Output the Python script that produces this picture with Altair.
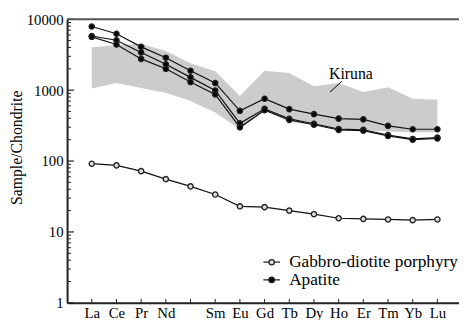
import altair as alt
import pandas as pd

# ---- data ----
elements = ["La", "Ce", "Pr", "Nd", "Pm", "Sm", "Eu", "Gd", "Tb", "Dy", "Ho", "Er", "Tm", "Yb", "Lu"]
tick_labels = ["La", "Ce", "Pr", "Nd", "", "Sm", "Eu", "Gd", "Tb", "Dy", "Ho", "Er", "Tm", "Yb", "Lu"]
positions = list(range(1, 16))

apatite_a = [7900, 6250, 4080, 2870, 1880, 1262, 511, 757, 540, 459, 396, 387, 313, 281, 281]
apatite_b = [5800, 5060, 3400, 2320, 1515, 990, 340, 545, 395, 336, 282, 276, 233, 205, 214]
apatite_c = [5650, 4400, 2760, 2000, 1300, 872, 299, 520, 380, 325, 274, 268, 226, 200, 208]
gabbro = [91.7, 87, 72, 55.7, 44, 33.7, 23, 22.4, 20, 17.8, 15.6, 15.3, 15.0, 14.7, 15.0]

kiruna_hi = [3990, 4350, 4500, 3560, 2400, 1840, 826, 1880, 1740, 1137, 1260, 938, 1100, 757, 733]
kiruna_lo = [1056, 1260, 1076, 918, 703, 484, 280, 520, 355, 330, 290, 272, 262, 255, 255]

series_names = ["Gabbro-diotite porphyry", "Apatite"]
y_tick_values = [1, 10, 100, 1000, 10000]

# annotation (data coordinates)
kiruna_label = {"x": 11.5, "y": 1668, "text": "Kiruna"}
kiruna_leader = {"x": 10.65, "y": 938, "x2": 11.13, "y2": 1334}

# ---- tables ----
band_df = pd.DataFrame({"pos": positions, "hi": kiruna_hi, "lo": kiruna_lo})
rows = []
for sid, (name, vals) in enumerate([
    (series_names[1], apatite_a),
    (series_names[1], apatite_b),
    (series_names[1], apatite_c),
    (series_names[0], gabbro),
]):
    for p, el, v in zip(positions, elements, vals):
        rows.append({"sample": sid, "series": name, "pos": p, "el": el, "value": v})
lines_df = pd.DataFrame(rows)

minor = [m * 10 ** d for d in range(4) for m in range(2, 10)]
minor_df = pd.DataFrame({"v": minor})
major_df = pd.DataFrame({"v": y_tick_values})
xtick_df = pd.DataFrame({"pos": positions})

W, H = 398, 288
XMAX = 15.875
FONT = "Liberation Serif"

xs = alt.Scale(domain=[0, XMAX], nice=False, zero=False)
ys = alt.Scale(type="log", domain=[1, 10000], nice=False)

label_expr = "[" + ",".join("'%s'" % t for t in tick_labels) + "][datum.value - 1]"

X_AXIS = alt.Axis(values=positions, labelExpr=label_expr, title=None,
                  labelPadding=3, labelOverlap=False, labelFlush=False)
Y_AXIS = alt.Axis(values=y_tick_values, format="d", title="Sample/Chondrite",
                  labelPadding=4, labelOverlap=False,
                  titleX=-51, titleY=130, titleAngle=270, titleBaseline="middle",
                  titleAlign="center")


def X(field):
    return alt.X(field, scale=xs, axis=X_AXIS)


def Y(field):
    return alt.Y(field, scale=ys, axis=Y_AXIS)


band = alt.Chart(band_df).mark_area(color="#cccccc", opacity=1).encode(
    x=X("pos:Q"), y=Y("hi:Q"), y2="lo:Q",
)

lines = alt.Chart(lines_df).mark_line(color="#111111", strokeWidth=1.2).encode(
    x=X("pos:Q"), y=Y("value:Q"), detail="sample:N",
)

legend_path = ("M-1.3,0L-0.42,0M0.42,0L1.3,0M-0.42,0A0.42,0.42,0,1,1,0.42,0"
               "A0.42,0.42,0,1,1,-0.42,0Z")

points = alt.Chart(lines_df).mark_point(
    filled=True, shape="circle", stroke="#222222", strokeWidth=1.4, opacity=1, size=28
).encode(
    x=X("pos:Q"), y=Y("value:Q"),
    fill=alt.Fill("series:N", scale=alt.Scale(domain=series_names, range=["#dddddd", "black"]),
                  legend=alt.Legend(
                      orient="none", legendX=199, legendY=238, title=None,
                      symbolType=legend_path, symbolSize=169,
                      symbolStrokeColor="#222222", symbolStrokeWidth=1.3,
                      labelFont=FONT, labelFontSize=17.5, labelColor="black",
                      labelLimit=400, labelOffset=9, rowPadding=-2, padding=0)),
)

minor_ticks = alt.Chart(minor_df).mark_rule(color="#222222", strokeWidth=1).encode(
    x=alt.value(0), x2=alt.value(4), y=Y("v:Q"))
major_ticks = alt.Chart(major_df).mark_rule(color="#222222", strokeWidth=1.2).encode(
    x=alt.value(0), x2=alt.value(7), y=Y("v:Q"))
x_ticks = alt.Chart(xtick_df).mark_rule(color="#222222", strokeWidth=1).encode(
    x=X("pos:Q"), y=alt.value(H), y2=alt.value(H - 4))

top_frame = alt.Chart(pd.DataFrame({"a": [0]})).mark_rule(color="#555555", strokeWidth=2).encode(
    x=alt.value(0), x2=alt.value(W), y=alt.value(0))

ann_text = alt.Chart(pd.DataFrame([kiruna_label])).mark_text(
    font=FONT, fontSize=16, color="black", align="center", baseline="middle"
).encode(x=X("x:Q"), y=Y("y:Q"), text="text:N")
ann_line = alt.Chart(pd.DataFrame([kiruna_leader])).mark_rule(color="black", strokeWidth=1).encode(
    x=X("x:Q"), y=Y("y:Q"), x2="x2:Q", y2="y2:Q")

chart = alt.layer(
    band, lines, points, minor_ticks, major_ticks, x_ticks, top_frame, ann_line, ann_text
).properties(
    width=W, height=H,
    autosize=alt.AutoSizeParams(type="none"),
    padding={"left": 60, "top": 9, "right": 0, "bottom": 15},
).configure_view(stroke=None).configure_axis(
    labelFont=FONT, labelFontSize=15, labelColor="black",
    titleFont=FONT, titleFontSize=16, titleFontWeight="normal", titleColor="black",
    domainColor="#222222", domainWidth=2, ticks=False, grid=False,
)

chart.save("out.html", embed_options={"renderer": "svg", "actions": False})
